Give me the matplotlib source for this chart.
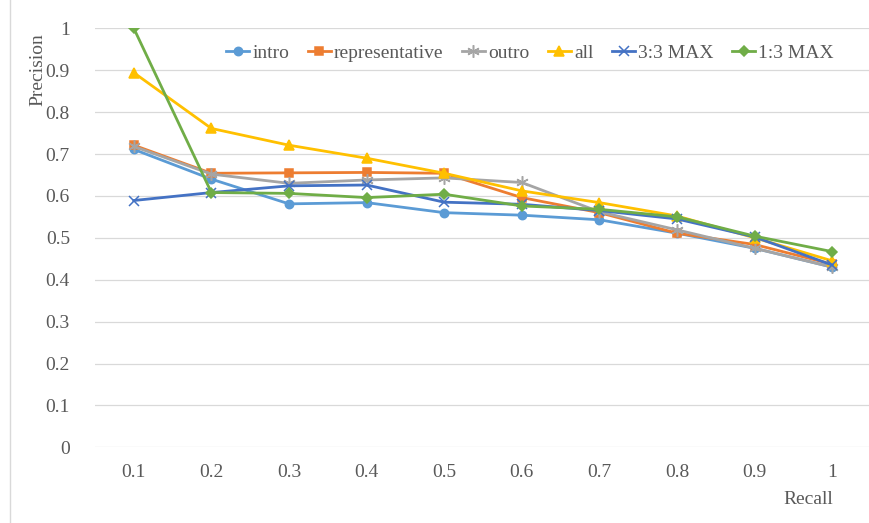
import matplotlib
matplotlib.use("Agg")
import matplotlib.pyplot as plt
from matplotlib.lines import Line2D

plt.rcParams['font.family'] = ['Liberation Serif', 'DejaVu Serif']

recall = ["0.1", "0.2", "0.3", "0.4", "0.5", "0.6", "0.7", "0.8", "0.9", "1"]
intro = [0.711, 0.640, 0.581, 0.584, 0.560, 0.554, 0.543, 0.511, 0.475, 0.430]
representative = [0.721, 0.654, 0.655, 0.656, 0.654, 0.596, 0.560, 0.511, 0.484, 0.437]
outro = [0.718, 0.652, 0.630, 0.638, 0.643, 0.632, 0.562, 0.519, 0.475, 0.430]
all_ = [0.894, 0.761, 0.721, 0.690, 0.654, 0.612, 0.584, 0.552, 0.500, 0.445]
max33 = [0.589, 0.608, 0.624, 0.626, 0.585, 0.580, 0.565, 0.545, 0.502, 0.435]
max13 = [1.000, 0.608, 0.606, 0.596, 0.604, 0.576, 0.568, 0.550, 0.504, 0.467]
yticks = [0, 0.1, 0.2, 0.3, 0.4, 0.5, 0.6, 0.7, 0.8, 0.9, 1]
ytick_labels = ["0", "0.1", "0.2", "0.3", "0.4", "0.5", "0.6", "0.7", "0.8", "0.9", "1"]

series = [
    ("intro", intro, "#5B9BD5", "o", 6),
    ("representative", representative, "#ED7D31", "s", 6),
    ("outro", outro, "#A5A5A5", (6, 2, 0), 9),
    ("all", all_, "#FFC000", "^", 7),
    ("3:3 MAX", max33, "#4472C4", "x", 7),
    ("1:3 MAX", max13, "#70AD47", "D", 5),
]

fig = plt.figure(figsize=(8.7, 5.23), dpi=100)
ax = fig.add_axes([95/870, 1 - 447.3/523, 776/870, 419/523])
x = list(range(len(recall)))
for name, vals, col, mk, ms in series:
    ax.plot(x, vals, color=col, lw=2, marker=mk, markersize=ms,
            markerfacecolor=col, markeredgecolor=col, markeredgewidth=1.1,
            label=name)

ax.set_xlim(-0.5, len(recall) - 0.5)
ax.set_ylim(0, 1)
ax.set_yticks(yticks)
ax.set_yticklabels(ytick_labels)
ax.set_xticks(x)
ax.set_xticklabels(recall)
ax.grid(axis='y', color='#D9D9D9', lw=0.9)
ax.set_axisbelow(True)
for s in ax.spines.values():
    s.set_visible(False)
ax.tick_params(axis='both', length=0, labelsize=14, colors='#595959')
ax.tick_params(axis='y', pad=18)
ax.tick_params(axis='x', pad=12)

fig.text(808/870, 1 - 500/523, "Recall", ha='center', va='center', fontsize=14, color='#595959')
fig.text(38/870, 1 - 70/523, "Precision", ha='center', va='center', rotation=90, fontsize=14, color='#595959')

leg = fig.legend(loc='center', bbox_to_anchor=(530/870, 1 - 53/523), ncol=6, frameon=False,
                 fontsize=14, handlelength=1.2, handletextpad=0.15, columnspacing=0.95,
                 labelcolor='#595959', borderaxespad=0, borderpad=0)

fig.add_artist(Line2D([10/870, 10/870], [0, 1], transform=fig.transFigure, color='#D9D9D9', lw=1))

fig.savefig("out.png", dpi=100)
